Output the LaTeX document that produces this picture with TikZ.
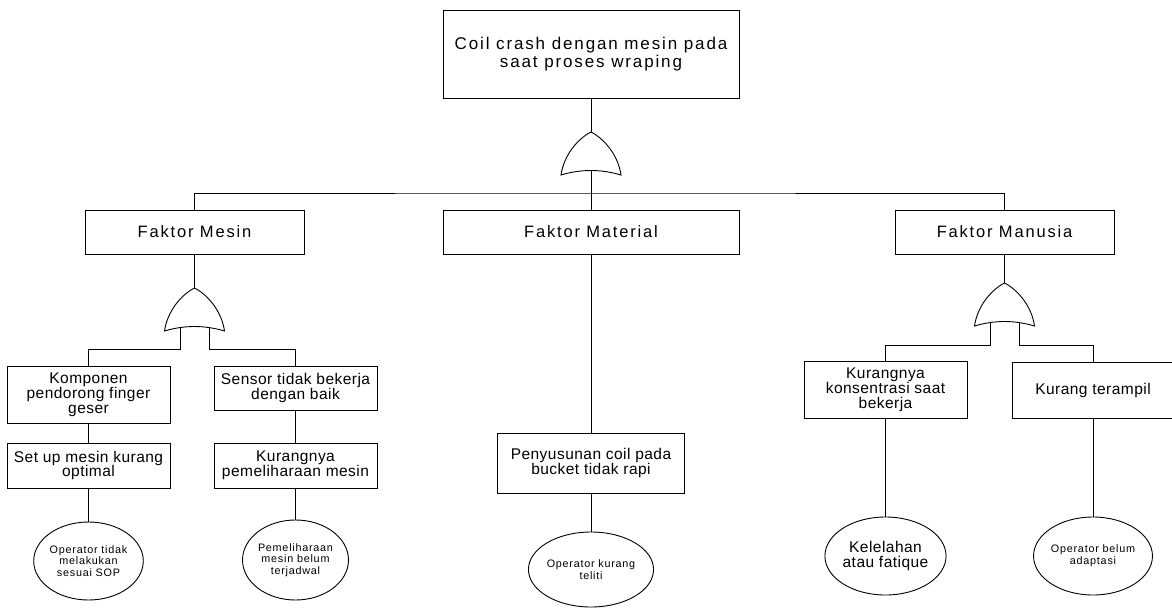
\documentclass[tikz,border=0pt]{standalone}
\usepackage{fontspec}
\setmainfont{Liberation Sans}
\newfontfamily\boxfont[LetterSpace=3]{Liberation Sans}
\newfontfamily\factorfont[LetterSpace=11]{Liberation Sans}
\newfontfamily\topfont[LetterSpace=11]{Liberation Sans}
\newfontfamily\smallfont[LetterSpace=7]{Liberation Sans}
\usetikzlibrary{shapes.geometric}

\tikzset{
  line/.style={line width=0.9pt, draw=black},
  event/.style={line, rectangle, fill=white, inner sep=0pt, align=center,
    font=\boxfont\fontsize{15.5}{14.8}\selectfont},
  factor/.style={event, minimum height=44,
    font=\factorfont\fontsize{16.5}{17}\selectfont},
  basic/.style={line, ellipse, fill=white, inner sep=0pt, align=center,
    font=\smallfont\fontsize{10.8}{11.8}\selectfont},
  % OR gate: apex at the origin, inputs hanging from the curved base
  orgate/.pic={
    \draw[line, fill=white] (0,0) .. controls (12,6) and (27,22) .. (30,43)
      .. controls (10,37) and (-10,37) .. (-30,43)
      .. controls (-27,22) and (-12,6) .. (0,0) -- cycle;
    \coordinate (-top) at (0,0);
    \coordinate (-mid) at (0,38.5);
    \coordinate (-inL) at (-14.5,39.6);
    \coordinate (-inR) at (14.5,39.6);
  }
}

\begin{document}
\begin{tikzpicture}[x=1pt, y=-1pt]
  \useasboundingbox[fill=white] (0,0) rectangle (1172,608);

  % top event
  \node[event, minimum width=296, minimum height=88,
        font=\topfont\fontsize{17}{18.5}\selectfont] (top) at (591,54)
    {Coil crash dengan mesin pada\\saat proses wraping};

  % factor level
  \node[factor, minimum width=219] (mesin) at (194.5,232) {Faktor Mesin};
  \node[factor, minimum width=296] (material) at (591,232) {Faktor Material};
  \node[factor, minimum width=219] (manusia) at (1004.5,232) {Faktor Manusia};

  % machine branch
  \node[event, minimum width=163, minimum height=57] (komponen) at (88.5,394.5)
    {Komponen\\pendorong finger\\geser};
  \node[event, minimum width=163, minimum height=44] (sensor) at (295.5,388)
    {Sensor tidak bekerja\\dengan baik};
  \node[event, minimum width=163, minimum height=45] (setup) at (88.5,465.5)
    {Set up mesin kurang\\optimal};
  \node[event, minimum width=163, minimum height=45] (kurpem) at (295.5,465.5)
    {Kurangnya\\pemeliharaan mesin};
  \node[basic, minimum width=102, minimum height=78] (op1) at (88.5,561)
    {Operator tidak\\melakukan\\sesuai SOP};
  \node[basic, minimum width=102, minimum height=80] (pem) at (295.5,560)
    {Pemeliharaan\\mesin belum\\terjadwal};

  % material branch
  \node[event, minimum width=187, minimum height=60] (penyusunan) at (591,463)
    {Penyusunan coil pada\\bucket tidak rapi};
  \node[basic, minimum width=104, minimum height=75] (opk) at (591,569.5)
    {Operator kurang\\teliti};

  % human branch
  \node[event, minimum width=163, minimum height=57] (konsentrasi) at (885.5,389.5)
    {Kurangnya\\konsentrasi saat\\bekerja};
  \node[event, minimum width=162, minimum height=56] (terampil) at (1093,390)
    {Kurang terampil};
  \node[basic, minimum width=105, minimum height=78,
        font=\boxfont\fontsize{15.5}{14.7}\selectfont] (kel) at (885.5,556)
    {Kelelahan\\atau fatique};
  \node[basic, minimum width=104, minimum height=78] (opb) at (1093,556)
    {Operator belum\\adaptasi};

  % gates
  \pic (g0) at (591,132) {orgate};
  \pic (gm) at (194.5,288) {orgate};
  \pic (gh) at (1004.5,283) {orgate};

  % connectors
  \coordinate (bus) at (591,193);
  \draw[line] (top) -- (g0-top);
  \draw[line] (g0-mid) -- (material);
  \draw[line] (mesin.north) |- (bus) -| (manusia.north);

  \draw[line] (mesin) -- (gm-top);
  \draw[line] (gm-inL) -- ++(0,21.4) -| (komponen.north);
  \draw[line] (gm-inR) -- ++(0,21.4) -| (sensor.north);
  \draw[line] (komponen) -- (setup);
  \draw[line] (setup) -- (op1);
  \draw[line] (sensor) -- (kurpem);
  \draw[line] (kurpem) -- (pem);

  \draw[line] (material) -- (penyusunan);
  \draw[line] (penyusunan) -- (opk);

  \draw[line] (manusia) -- (gh-top);
  \draw[line] (gh-inL) -- ++(0,22.4) -| (konsentrasi.north);
  \draw[line] (gh-inR) -- ++(0,22.4) -| (terampil.north);
  \draw[line] (konsentrasi) -- (kel);
  \draw[line] (terampil) -- (opb);
\end{tikzpicture}
\end{document}
